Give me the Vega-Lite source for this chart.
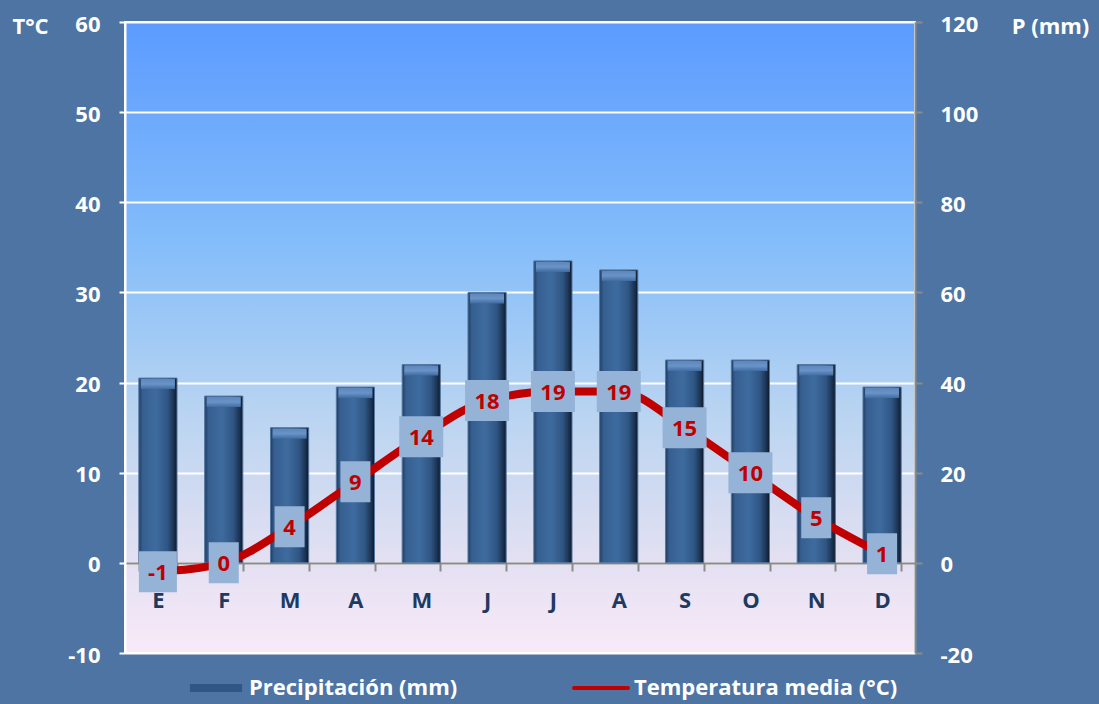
{
  "$schema": "https://vega.github.io/schema/vega-lite/v6.json",
  "width": 790,
  "height": 631,
  "autosize": {"type": "none"},
  "padding": {"left": 125, "top": 22, "right": 184, "bottom": 51},
  "background": "#4d74a3",
  "view": {
    "fill": {
      "gradient": "linear", "x1": 0, "y1": 0, "x2": 0, "y2": 1,
      "stops": [
        {"offset": 0, "color": "#5b9bff"},
        {"offset": 0.35, "color": "#84bdfa"},
        {"offset": 0.62, "color": "#b9d4f1"},
        {"offset": 0.85, "color": "#e3e0f2"},
        {"offset": 1, "color": "#f8eaf8"}
      ]
    },
    "stroke": "#ffffff",
    "strokeWidth": 2
  },
  "config": {
    "font": "Open Sans",
    "axis": {"labelFont": "Open Sans", "titleFont": "Open Sans"},
    "legend": {"labelFont": "Open Sans"}
  },
  "data": {
    "values": [
      {"mes": "Enero", "precip": 41, "temp": -1},
      {"mes": "Febrero", "precip": 37, "temp": 0},
      {"mes": "Marzo", "precip": 30, "temp": 4},
      {"mes": "Abril", "precip": 39, "temp": 9},
      {"mes": "Mayo", "precip": 44, "temp": 14},
      {"mes": "Junio", "precip": 60, "temp": 18},
      {"mes": "Julio", "precip": 67, "temp": 19},
      {"mes": "Agosto", "precip": 65, "temp": 19},
      {"mes": "Septiembre", "precip": 45, "temp": 15},
      {"mes": "Octubre", "precip": 45, "temp": 10},
      {"mes": "Noviembre", "precip": 44, "temp": 5},
      {"mes": "Diciembre", "precip": 39, "temp": 1}
    ]
  },
  "encoding": {
    "x": {
      "field": "mes",
      "type": "nominal",
      "sort": null,
      "scale": {"paddingInner": 0.42, "paddingOuter": 0.21},
      "axis": {
        "title": null,
        "orient": "bottom",
        "offset": -90,
        "labelExpr": "upper(substring(datum.label, 0, 1))",
        "labelAngle": 0,
        "labelColor": "#1f3a60",
        "labelFontSize": 22,
        "labelFontWeight": "bold",
        "labelPadding": 19,
        "domainColor": "#8a8a8a",
        "domainWidth": 2,
        "tickColor": "#8a8a8a",
        "tickWidth": 2,
        "tickSize": 8,
        "tickBand": "extent",
        "grid": false
      }
    }
  },
  "layer": [
    {
      "encoding": {
        "y": {
          "field": "precip",
          "type": "quantitative",
          "scale": {"domain": [-20, 120], "nice": false},
          "axis": {
            "orient": "right",
            "values": [-20, 0, 20, 40, 60, 80, 100, 120],
            "labelExpr": "'' + datum.value",
            "title": "P (mm)",
            "titleAngle": 0,
            "titleX": 135,
            "titleY": 4,
            "titleAlign": "center",
            "titleBaseline": "middle",
            "titleColor": "#ffffff",
            "titleFontSize": 22,
            "titleFontWeight": "bold",
            "labelColor": "#ffffff",
            "labelFontSize": 22,
            "labelFontWeight": "bold",
            "labelPadding": 18,
            "labelOffset": 2,
            "domainColor": "#8a8a8a",
            "domainWidth": 2,
            "tickColor": "#8a8a8a",
            "tickWidth": 2,
            "tickSize": 7,
            "grid": false
          }
        }
      },
      "layer": [
        {
          "mark": {
            "type": "bar",
            "stroke": "#56779f",
            "strokeWidth": 1,
            "fill": {
              "gradient": "linear", "x1": 0, "y1": 0, "x2": 1, "y2": 0,
              "stops": [
                {"offset": 0, "color": "#1f3c62"},
                {"offset": 0.1, "color": "#365f90"},
                {"offset": 0.45, "color": "#3e6b9f"},
                {"offset": 0.75, "color": "#2f5684"},
                {"offset": 0.92, "color": "#1a3150"},
                {"offset": 1, "color": "#0d1826"}
              ]
            }
          }
        },
        {
          "mark": {
            "type": "tick",
            "size": 34,
            "thickness": 10,
            "yOffset": 6,
            "opacity": 1,
            "fill": {
              "gradient": "linear", "x1": 0, "y1": 0, "x2": 0, "y2": 1,
              "stops": [
                {"offset": 0, "color": "#5d87bd"},
                {"offset": 0.5, "color": "#6a93c7"},
                {"offset": 1, "color": "#3f6ca1"}
              ]
            }
          }
        }
      ]
    },
    {
      "encoding": {
        "y": {
          "field": "temp",
          "type": "quantitative",
          "scale": {"domain": [-10, 60], "nice": false},
          "axis": {
            "orient": "left",
            "values": [-10, 0, 10, 20, 30, 40, 50, 60],
            "labelExpr": "'' + datum.value",
            "title": "T°C",
            "titleAngle": 0,
            "titleX": -95,
            "titleY": 4,
            "titleAlign": "center",
            "titleBaseline": "middle",
            "titleColor": "#ffffff",
            "titleFontSize": 22,
            "titleFontWeight": "bold",
            "labelColor": "#ffffff",
            "labelFontSize": 22,
            "labelFontWeight": "bold",
            "labelPadding": 19,
            "labelOffset": 2,
            "domainColor": "#ffffff",
            "domainWidth": 2,
            "tickColor": "#ffffff",
            "tickWidth": 2,
            "tickSize": 6,
            "grid": true,
            "gridColor": "#ffffff",
            "gridWidth": 2,
            "gridOpacity": 1
          }
        }
      },
      "layer": [
        {
          "mark": {"type": "line", "color": "#c00000", "strokeWidth": 8, "interpolate": "monotone", "strokeCap": "round"},
          "encoding": {}
        },
        {
          "mark": {"type": "tick", "thickness": 41, "color": "#95b3d7", "opacity": 1},
          "encoding": {
            "size": {
              "condition": [
                {"test": "datum.temp < 0", "value": 38},
                {"test": "datum.temp < 10", "value": 30}
              ],
              "value": 44
            }
          }
        },
        {
          "mark": {"type": "text", "color": "#c00000", "fontSize": 22, "fontWeight": "bold", "baseline": "middle", "dy": 1},
          "encoding": {
            "text": {"field": "temp", "type": "nominal"}
          }
        },
        {
          "mark": {"type": "point", "filled": true, "opacity": 0},
          "encoding": {
            "fill": {
              "datum": "Precipitación (mm)",
              "scale": {
                "domain": ["Precipitación (mm)", "Temperatura media (°C)"],
                "range": ["#2f5686", "#c00000"]
              },
              "legend": {
                "orient": "none",
                "legendX": 62,
                "legendY": 637,
                "direction": "horizontal",
                "title": null,
                "padding": 0,
                "labelColor": "#ffffff",
                "labelFontSize": 22,
                "labelFontWeight": "bold",
                "labelLimit": 0,
                "labelOffset": 4,
                "columnPadding": 113,
                "symbolSize": 3364,
                "symbolOpacity": 1,
                "symbolStrokeWidth": 0
              }
            },
            "shape": {
              "datum": "Precipitación (mm)",
              "scale": {
                "domain": ["Precipitación (mm)", "Temperatura media (°C)"],
                "range": [
                  "M-0.9,-0.14H0.9V0.14H-0.9Z",
                  "M-0.93,-0.07H0.93A0.07,0.07,0,0,1,0.93,0.07H-0.93A0.07,0.07,0,0,1,-0.93,-0.07Z"
                ]
              },
              "legend": {
                "orient": "none",
                "legendX": 62,
                "legendY": 637,
                "direction": "horizontal",
                "title": null,
                "padding": 0,
                "labelColor": "#ffffff",
                "labelFontSize": 22,
                "labelFontWeight": "bold",
                "labelLimit": 0,
                "labelOffset": 4,
                "columnPadding": 113,
                "symbolSize": 3364,
                "symbolOpacity": 1,
                "symbolStrokeWidth": 0
              }
            }
          }
        }
      ]
    }
  ],
  "resolve": {"scale": {"y": "independent"}}
}
